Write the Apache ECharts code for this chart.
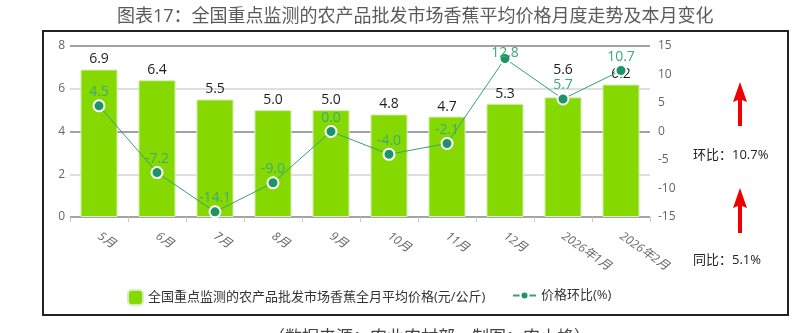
<!DOCTYPE html>
<html>
<head>
<meta charset="utf-8">
<script src="https://cdn.jsdelivr.net/npm/echarts@6/dist/echarts.min.js"></script>
<style>
  html, body { margin: 0; padding: 0; background: #fff; }
  #chart { width: 808px; height: 333px; }
</style>
</head>
<body>
<div id="chart"></div>
<script>
// Months shown on the category axis
const months = ['5月', '6月', '7月', '8月', '9月', '10月', '11月', '12月', '2026年1月', '2026年2月'];
// Monthly average wholesale banana price (yuan/kg)
const avgPrice = [6.9, 6.4, 5.5, 5.0, 5.0, 4.8, 4.7, 5.3, 5.6, 6.2];
// Month-on-month price change (%)
const momChange = [4.5, -7.2, -14.1, -9.0, 0.0, -4.0, -2.1, 12.8, 5.7, 10.7];

const barName = '全国重点监测的农产品批发市场香蕉全月平均价格(元/公斤)';
const lineName = '价格环比(%)';
const momText = '环比：10.7%';
const yoyText = '同比：5.1%';

const FONT = '"Open Sans", "Noto Sans CJK SC", sans-serif';
const RIGHT_MAX = 15;
const chart = echarts.init(document.getElementById('chart'));

// Upward arrow polygon centred on x, from tip y to tail y
function arrow(cx, tip, tail) {
  return {
    type: 'polygon',
    shape: {
      points: [
        [cx, tip], [cx + 7, tip + 20], [cx + 2, tip + 18], [cx + 2, tail],
        [cx - 2, tail], [cx - 2, tip + 18], [cx - 7, tip + 20]
      ]
    },
    style: { fill: '#f00000' },
    silent: true
  };
}

// Labels of points close to the top edge are pulled down so they stay inside the plot
const lineData = momChange.map(v =>
  v > RIGHT_MAX - 3 ? { value: v, label: { distance: -8 } } : v
);

chart.setOption({
  animation: false,
  textStyle: { fontFamily: FONT },
  title: {
    text: '图表17：全国重点监测的农产品批发市场香蕉平均价格月度走势及本月变化',
    left: 112,
    top: 3,
    textStyle: { fontSize: 18, fontWeight: 'normal', color: '#5a5a5a', fontFamily: FONT }
  },
  grid: { left: 70, right: 158, top: 46, bottom: 116 },
  legend: [
    {
      data: [barName],
      left: 122, top: 284,
      itemWidth: 15, itemHeight: 15, itemGap: 4,
      textStyle: { fontSize: 13, color: '#333' }
    },
    {
      data: [lineName],
      left: 507, top: 284,
      itemWidth: 23, itemHeight: 10,
      textStyle: { fontSize: 13, color: '#333' }
    }
  ],
  xAxis: {
    type: 'category',
    data: months,
    axisLine: { lineStyle: { color: '#a6a6a6', width: 1 } },
    axisTick: { show: true, length: 5, lineStyle: { color: '#c8c8c8' } },
    axisLabel: { rotate: -35, color: '#666', fontSize: 12, margin: 18, fontStyle: 'italic' }
  },
  yAxis: [
    {
      type: 'value',
      min: 0, max: 8, interval: 2,
      axisLine: { show: false },
      axisTick: { show: false },
      axisLabel: { color: '#666', fontSize: 12, margin: 5 },
      splitLine: { lineStyle: { color: ['#a2a2a2', '#dedede'], width: 2 } }
    },
    {
      type: 'value',
      min: -RIGHT_MAX, max: RIGHT_MAX, interval: 5,
      axisLine: { show: false },
      axisTick: { show: false },
      axisLabel: { color: '#666', fontSize: 12, margin: 8 },
      splitLine: { show: false }
    }
  ],
  series: [
    {
      name: barName,
      type: 'bar',
      data: avgPrice,
      barWidth: '64%',
      itemStyle: { color: '#86d900', borderColor: '#d9ecc0', borderWidth: 1 },
      label: {
        show: true, position: 'top', distance: 3,
        fontSize: 14, color: '#1e1e1e',
        formatter: p => Number(p.value).toFixed(1)
      }
    },
    {
      name: lineName,
      type: 'line',
      yAxisIndex: 1,
      data: lineData,
      symbol: 'circle',
      symbolSize: 11,
      lineStyle: { color: '#3a9e78', width: 1 },
      itemStyle: { color: '#1b9467', borderColor: '#fff', borderWidth: 2 },
      label: {
        show: true, position: 'top', distance: 0,
        fontSize: 14, color: '#3bab7a',
        formatter: p => Number(p.value).toFixed(1)
      },
      z: 5
    }
  ],
  graphic: [
    {
      type: 'rect',
      shape: { x: 43, y: 31, width: 745, height: 284 },
      style: { fill: 'none', stroke: '#222', lineWidth: 2 },
      silent: true
    },
    arrow(740, 82, 126),
    arrow(740, 188, 233),
    {
      type: 'text', left: 693, top: 149,
      style: { text: momText, fontSize: 13, fill: '#222', fontFamily: FONT }
    },
    {
      type: 'text', left: 693, top: 254,
      style: { text: yoyText, fontSize: 13, fill: '#222', fontFamily: FONT }
    },
    {
      type: 'text', left: 268, top: 330,
      style: { text: '（数据来源：农业农村部，制图：农小蜂）', fontSize: 17, fill: '#444', fontFamily: FONT }
    }
  ]
});

// Lift a bar's value label above the line label when the two would collide
const barData = avgPrice.map((v, i) => {
  const barTop = chart.convertToPixel({ yAxisIndex: 0 }, v);
  const point = chart.convertToPixel({ yAxisIndex: 1 }, momChange[i]);
  const barLabelY = barTop - 11;
  const lineLabelY = point - 14;
  if (Math.abs(barLabelY - lineLabelY) < 12) {
    return { value: v, label: { offset: [0, lineLabelY - 16 - barLabelY] } };
  }
  return v;
});
chart.setOption({ series: [{ data: barData }] });
</script>
</body>
</html>
